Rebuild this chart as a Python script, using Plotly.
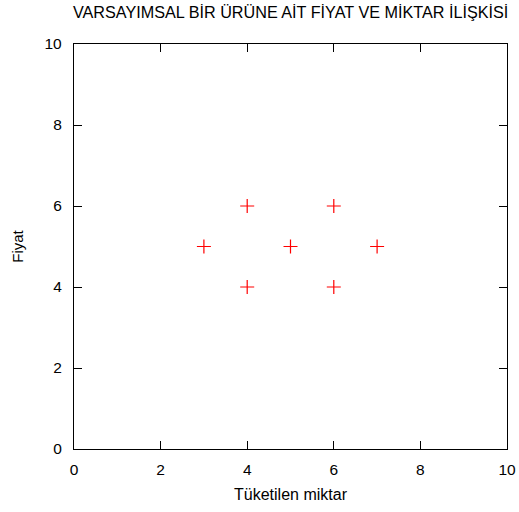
import plotly.graph_objects as go

# Hypothetical quantity / price observations
miktar = [3, 4, 4, 5, 6, 6, 7]
fiyat = [5, 6, 4, 5, 6, 4, 5]

FONT = "Liberation Sans, Arial"

fig = go.Figure()
fig.add_trace(go.Scatter(
    x=miktar, y=fiyat, mode="markers",
    marker=dict(symbol="cross-thin", size=10, color="red",
                line=dict(color="red", width=1.2)),
    showlegend=False,
))

axis_common = dict(
    showgrid=False, zeroline=False, showline=True, linecolor="black",
    linewidth=1.3, mirror="ticks", ticks="inside", ticklen=8,
    tickcolor="black", tickwidth=1, dtick=2, automargin=False,
    tickfont=dict(family=FONT, size=15.5, color="black"),
)

fig.update_layout(
    width=519, height=512,
    margin=dict(l=74, r=12, t=44, b=63),
    plot_bgcolor="white", paper_bgcolor="white",
    title=dict(text="VARSAYIMSAL BİR ÜRÜNE AİT FİYAT VE MİKTAR İLİŞKİSİ",
               x=0.56, xanchor="center", y=0.975, yanchor="middle",
               font=dict(family=FONT, size=16.2, color="black")),
    xaxis=dict(range=[0, 10], title=dict(text="Tüketilen miktar", standoff=12,
               font=dict(family=FONT, size=16, color="black")),
               ticklabelstandoff=6, **axis_common),
    yaxis=dict(range=[0, 10], title=dict(text="Fiyat", standoff=17,
               font=dict(family=FONT, size=15, color="black")),
               ticklabelstandoff=8, **axis_common),
)

fig.write_html("out.html")
